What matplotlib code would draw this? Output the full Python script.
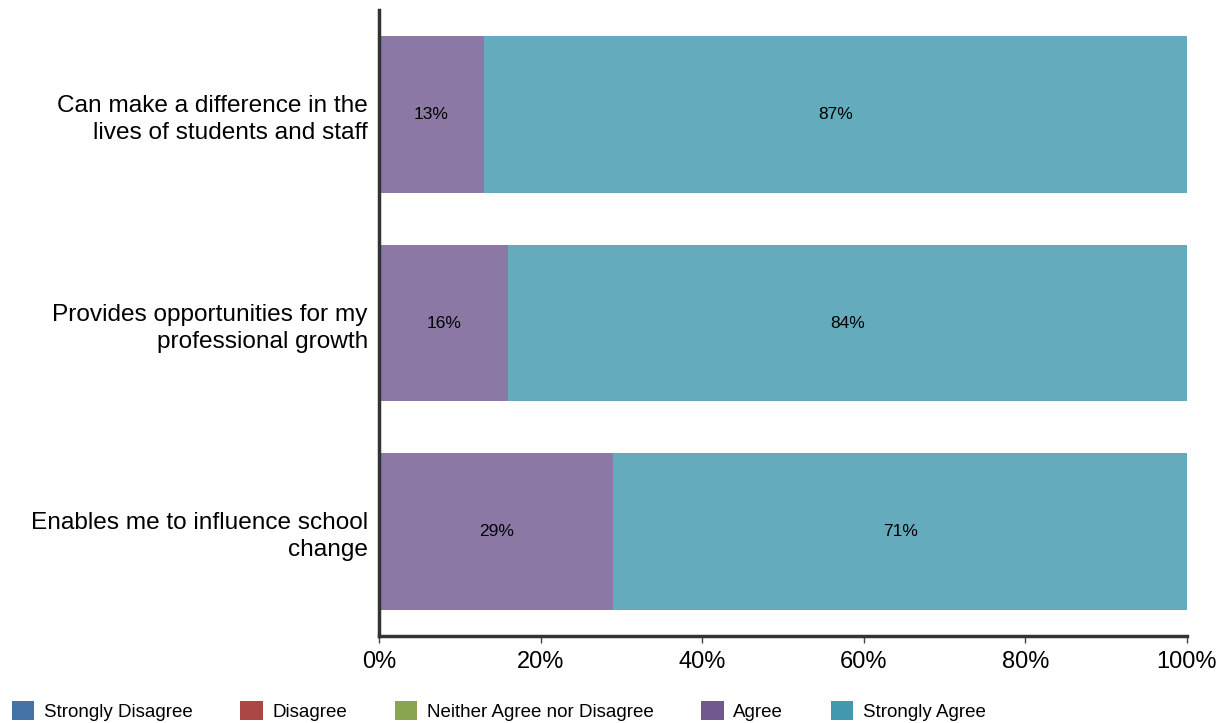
import matplotlib
matplotlib.use("Agg")
import matplotlib.pyplot as plt
from matplotlib.patches import Patch
from matplotlib.ticker import FuncFormatter

categories = [
    "Can make a difference in the\nlives of students and staff",
    "Provides opportunities for my\nprofessional growth",
    "Enables me to influence school\nchange",
]
series_names = ["Strongly Disagree", "Disagree", "Neither Agree nor Disagree", "Agree", "Strongly Agree"]
series_values = {
    "Strongly Disagree": [0, 0, 0],
    "Disagree": [0, 0, 0],
    "Neither Agree nor Disagree": [0, 0, 0],
    "Agree": [13, 16, 29],
    "Strongly Agree": [87, 84, 71],
}
legend_colors = ["#4572A7", "#AA4643", "#89A54E", "#71588F", "#4198AF"]
bar_colors = ["#6A8EBB", "#BE6F6C", "#A3B977", "#8B78A5", "#64ABBD"]

plt.rcParams["font.family"] = ["Liberation Sans", "DejaVu Sans"]

fig = plt.figure(figsize=(12.25, 7.23), dpi=100)
ax = fig.add_axes([379 / 1225, 1 - 636 / 723, (1187 - 379) / 1225, (636 - 10) / 723])

ypos = list(range(len(categories)))
left = [0] * len(categories)
for name, col in zip(series_names, bar_colors):
    vals = series_values[name]
    ax.barh(ypos, vals, left=left, height=0.75, color=col, edgecolor="none")
    for y, l, v in zip(ypos, left, vals):
        if v > 0:
            ax.text(l + v / 2, y, f"{v}%", ha="center", va="center", fontsize=12.5, color="black")
    left = [a + b for a, b in zip(left, vals)]

ax.set_xlim(0, 100)
ax.set_ylim(len(categories) - 0.5, -0.5)
ax.set_yticks(ypos)
ax.set_yticklabels(categories, fontsize=17.6, ha="right", multialignment="right", linespacing=1.3)
ax.set_xticks([0, 20, 40, 60, 80, 100])
ax.xaxis.set_major_formatter(FuncFormatter(lambda v, p: f"{int(v)}%"))
ax.tick_params(axis="x", labelsize=17, length=5, width=1, color="#444444", direction="out", pad=6)
ax.tick_params(axis="y", length=0, pad=8)
for s in ["top", "right"]:
    ax.spines[s].set_visible(False)
for s in ["left", "bottom"]:
    ax.spines[s].set_linewidth(2.5)
    ax.spines[s].set_color("#333333")

handles = [Patch(facecolor=c, edgecolor="none") for c in legend_colors]
fig.legend(handles, series_names, loc="lower left", bbox_to_anchor=(-0.001, -0.015), ncol=5,
           frameon=False, prop={"size": 13.5},
           handlelength=1.2, handleheight=1.2, handletextpad=0.5, columnspacing=2.55, borderaxespad=0.3)

fig.savefig("out.png", dpi=100)
